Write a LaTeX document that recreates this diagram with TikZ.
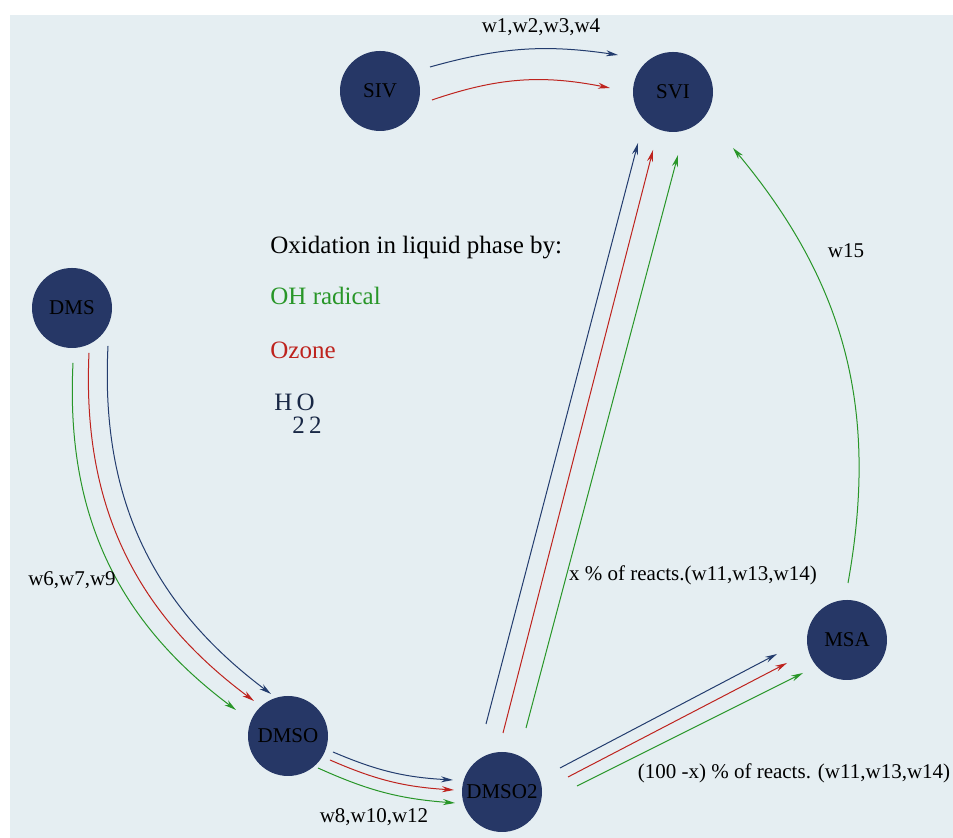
\documentclass[tikz,border=0pt]{standalone}
\usepackage{fontspec}
\setmainfont{Liberation Serif}
\usetikzlibrary{arrows.meta,positioning}
\definecolor{spfill}{RGB}{38,55,102}
\definecolor{bgcol}{RGB}{229,238,242}
\definecolor{hblue}{RGB}{35,60,110}
\definecolor{ored}{RGB}{190,35,30}
\definecolor{ohgreen}{RGB}{40,150,40}
\definecolor{htext}{RGB}{25,40,70}

\begin{document}
\begin{tikzpicture}[
    x=0.5pt, y=0.5pt,
    species/.style={circle, fill=spfill, minimum size=40pt, inner sep=0pt, font=\fontsize{10.5}{12}\selectfont, text=black},
    lbl/.style={font=\fontsize{10.5}{12}\selectfont},
    leg/.style={font=\fontsize{12.5}{15}\selectfont, anchor=west, inner sep=0pt},
    arrow/.style={-{Stealth[length=6pt,width=3pt]}, line width=0.5pt},
    blu/.style={arrow, draw=hblue},
    rd/.style={arrow, draw=ored},
    grn/.style={arrow, draw=ohgreen}
]
    \useasboundingbox (0,0) rectangle (953,838);
    \fill[bgcol] (10,0) rectangle (953,823);

    % species
    \node[species] (siv) at (380,747) {SIV};
    \node[species] (svi) at (673,746) {SVI};
    \node[species] (dms) at (72,530) {DMS};
    \node[species] (dmso) at (288,102) {DMSO};
    \node[species] (dmsotwo) at (502,46) {DMSO2};
    \node[species] (msa) at (847,198) {MSA};

    % legend
    \node[leg] (title) at (270,590) {Oxidation in liquid phase by:};
    \node[leg, text=ohgreen] (oh) at (270,542) {OH radical};
    \node[leg, text=ored] (ozone) at (270,488) {Ozone};
    \node[leg, text=htext] (hho) at (274,436) {H\,O};
    \node[leg, text=htext, anchor=north west] (hhotwo) at ([xshift=9pt,yshift=-3pt]hho.south west) {2\,2};

    % SIV -> SVI
    \draw[blu] ([shift={(50,24)}]siv.center) to[bend left=12] ([shift={(-55,37)}]svi.center);
    \draw[rd] ([shift={(52,-9)}]siv.center) to[bend left=15] ([shift={(-63,4)}]svi.center);
    \node[lbl] (wsiv) at (541,811) {w1,w2,w3,w4};

    % DMS -> DMSO
    \draw[grn] ([shift={(1,-55)}]dms.center) to[bend right=28] ([shift={(-52,26)}]dmso.center);
    \draw[rd] ([shift={(17,-45)}]dms.center) to[bend right=28] ([shift={(-34,35)}]dmso.center);
    \draw[blu] ([shift={(36,-38)}]dms.center) to[bend right=28] ([shift={(-17,42)}]dmso.center);
    \node[lbl] (wdms) at (72,258) {w6,w7,w9};

    % DMSO -> DMSO2
    \draw[blu] ([shift={(45,-16)}]dmso.center) to[bend right=10] ([shift={(-49,12)}]dmsotwo.center);
    \draw[rd] ([shift={(42,-24)}]dmso.center) to[bend right=10] ([shift={(-48,2)}]dmsotwo.center);
    \draw[grn] ([shift={(30,-32)}]dmso.center) to[bend right=10] ([shift={(-47,-11)}]dmsotwo.center);
    \node[lbl] (wdmso) at (374,21) {w8,w10,w12};

    % DMSO2 -> SVI
    \draw[blu] ([shift={(-16,68)}]dmsotwo.center) -- ([shift={(-35,-51)}]svi.center);
    \draw[rd] ([shift={(1,59)}]dmsotwo.center) -- ([shift={(-20,-58)}]svi.center);
    \draw[grn] ([shift={(24,64)}]dmsotwo.center) -- ([shift={(5,-63)}]svi.center);
    \node[lbl] (wx) at (693,263) {x \% of reacts.(w11,w13,w14)};

    % DMSO2 -> MSA
    \draw[blu] ([shift={(58,24)}]dmsotwo.center) -- ([shift={(-70,-14)}]msa.center);
    \draw[rd] ([shift={(66,15)}]dmsotwo.center) -- ([shift={(-60,-23)}]msa.center);
    \draw[grn] ([shift={(75,6)}]dmsotwo.center) -- ([shift={(-44,-33)}]msa.center);
    \node[lbl] (wxx) at (794,65) {(100 -x) \% of reacts. (w11,w13,w14)};

    % MSA -> SVI
    \draw[grn] ([shift={(1,57)}]msa.center) to[bend right=25] ([shift={(60,-56)}]svi.center);
    \node[lbl] (wmsa) at (846,587) {w15};
\end{tikzpicture}
\end{document}
